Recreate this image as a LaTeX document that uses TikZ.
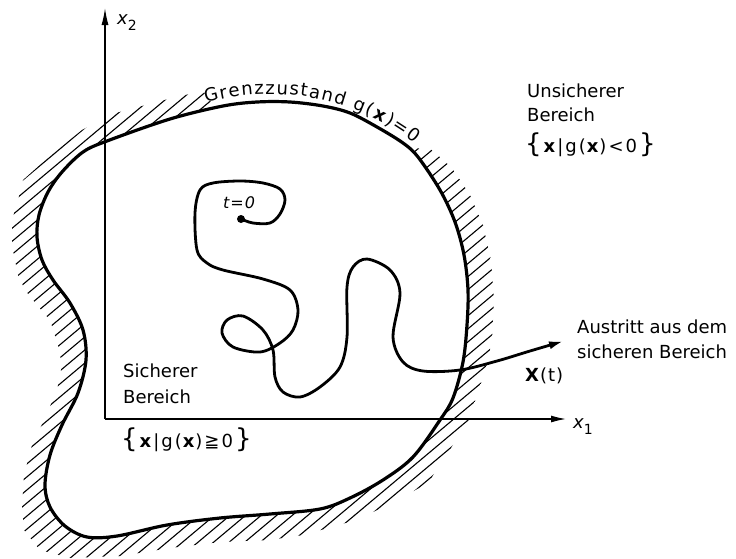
\documentclass[tikz,border=0pt]{standalone}
\usepackage{fontspec}
\setmainfont{DejaVu Sans}
\usetikzlibrary{arrows.meta}
\newcommand\Lbr{{\fontsize{26}{26}\selectfont\{}}
\newcommand\Rbr{{\fontsize{26}{26}\selectfont\}}}
\begin{document}
\begin{tikzpicture}[x=1pt,y=-1pt,
  boundary/.style={line width=3.2pt, line join=round},
  traj/.style={line width=2.8pt, line cap=round, line join=round},
  axisline/.style={line width=1.3pt},
  hatchline/.style={line width=1.1pt},
  lbl/.style={inner sep=0pt, anchor=base west}]
\fontsize{18}{22}\selectfont
\useasboundingbox (0,0) rectangle (736,558);
% hatching outside the limit state
\begin{scope}
\clip (12,220) -- (18,200) -- (23,180) -- (50,156) -- (82,130) -- (112,114) -- (142,106) -- (172,98) -- (203,91) -- (210,100) -- (216,112) -- (260,110) -- (300,110) -- (335,116) -- (368,133) -- (398,155) -- (415,148) -- (432,150) -- (452,168) -- (470,195) -- (483,225) -- (491,260) -- (494,300) -- (492,340) -- (486,368) -- (476,398) -- (468,422) -- (445,457) -- (428,483) -- (392,503) -- (356,520) -- (328,528) -- (303,535) -- (270,540) -- (220,542) -- (170,548) -- (120,556) -- (70,558) -- (40,550) -- (24,530) -- (22,505) -- (24,475) -- (32,445) -- (45,418) -- (57,390) -- (62,365) -- (58,345) -- (50,320) -- (37,305) -- (25,290) -- (18,275) -- (12,245) -- cycle;
\foreach \k in {-46,...,52} {
  \draw[hatchline] ({300+6.43*\k-540},{300+7.66*\k+453}) -- ({300+6.43*\k+540},{300+7.66*\k-453});
}
\end{scope}
% limit state boundary
\draw[boundary, fill=white] plot[smooth cycle, tension=0.55] coordinates {
 (107,141) (170,119) (223,106) (257,102) (290,102) (323,106) (350,113) (377,127) (403,143) (418,157)
 (440,190) (455,222) (464,255) (468,290) (467,325) (463,362) (453,398) (440,420) (413,457) (383,480)
 (350,498) (320,509) (270,514) (220,518) (167,525) (117,536) (87,537) (65,526) (50,507) (45,485)
 (50,455) (62,425) (78,393) (86,360) (83,330) (70,303) (53,280) (42,260) (37,237) (39,215)
 (48,192) (62,172) (83,152)};
% axes
\coordinate (O) at (105,419);
\coordinate (X1) at (566,419);
\coordinate (X2) at (105,8);
\draw[axisline, -{Latex[length=15pt,width=7pt]}] (O) -- (X1);
\draw[axisline, -{Latex[length=17pt,width=7pt]}] (O) -- (X2);
\node[lbl] (x2lab) at (117,24) {\itshape x\raisebox{-6pt}{\fontsize{14}{14}\selectfont\upshape 2}};
\node[lbl] (x1lab) at (573,428) {\itshape x\raisebox{-6pt}{\fontsize{14}{14}\selectfont\upshape 1}};
% label along the boundary (characters on an arc)
\foreach \a/\c [count=\i] in {-14.16/G,-11.21/r,-8.61/e,-5.51/n,-2.62/z,0.04/z,2.93/u,5.82/s,8.17/t,10.72/a,13.81/n,16.95/d,21.83/g,24.43/{(},27.20/{\textbf{x}},29.96/{)},33.01/{=},36.60/0}
  \node[inner sep=0pt, anchor=base, rotate=-\a] (gz\i) at ({270+235*sin(\a)},{329-235*cos(\a)}) {\c};
% trajectory
\coordinate (start) at (241,219);
\fill (start) circle[radius=4pt];
\draw[traj, -{Latex[length=15pt,width=8pt]}] plot[smooth, tension=0.55] coordinates {
 (241,219) (253,223) (270,223) (280,214) (285,200) (280,189) (263,183) (240,181) (213,183) (200,190)
 (195,213) (197,250) (207,263) (223,270) (263,279) (290,290) (298,310) (293,330) (280,343) (260,352)
 (233,347) (222,333) (227,320) (243,316) (263,330) (273,350) (275,377) (283,392) (300,397) (320,387)
 (340,367) (347,337) (347,287) (353,267) (367,259) (390,270) (400,293) (393,337) (403,362) (423,371)
 (460,370) (497,361) (530,351) (564,341)};
\node[lbl, font=\fontsize{16}{16}\selectfont\itshape] (t0) at (223,208) {t\kern1pt=\kern1pt0};
% texts
\node[lbl] (u1) at (527,97) {Unsicherer};
\node[lbl] (u2) at (527,121) {Bereich};
\node[inner sep=0pt, anchor=west] (u3) at (525,145) {\Lbr\kern2pt\textbf{x}\kern2pt|\kern2pt g\kern2pt(\kern1pt\textbf{x}\kern1pt)\kern2pt<\kern2pt0\kern2pt\Rbr};
\node[lbl] (s1) at (123,377) {Sicherer};
\node[lbl] (s2) at (123,403) {Bereich};
\node[inner sep=0pt, anchor=west] (s3) at (121,440) {\Lbr\kern2pt\textbf{x}\kern2pt|\kern2pt g\kern2pt(\kern1pt\textbf{x}\kern1pt)\kern2pt≧\kern2pt0\kern2pt\Rbr};
\node[lbl] (a1) at (577,333) {Austritt aus dem};
\node[lbl] (a2) at (577,358) {sicheren Bereich};
\node[lbl] (xt) at (525,381) {\textbf{X}\kern1pt(\kern1pt t\kern1pt)};
\end{tikzpicture}
\end{document}
